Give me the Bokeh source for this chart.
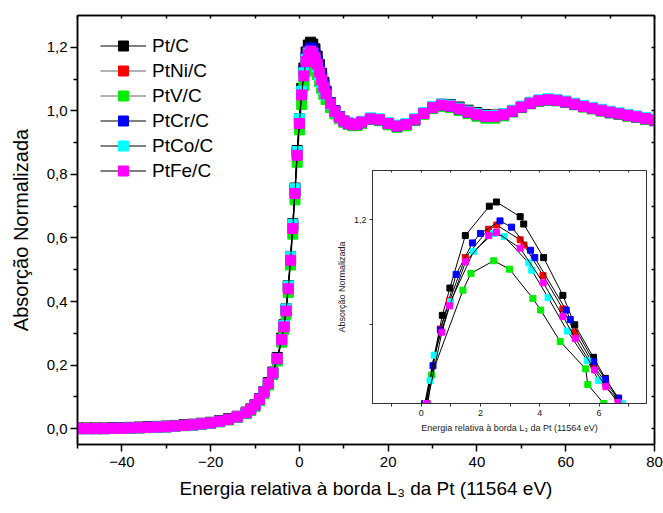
from bokeh.plotting import figure
from bokeh.models import (Range1d, LinearAxis, FixedTicker, CustomJSTickFormatter,
                          Legend, LegendItem)
from bokeh.layouts import column
from bokeh.embed import file_html
from bokeh.resources import INLINE

# ---------------- main chart data ----------------
X = [-50, -48, -46, -44, -42, -40, -38, -36, -34, -32, -30, -28, -26, -24, -22, -20, -18, -16, -14, -12,
     -11, -10, -9, -8, -7, -6, -5, -4,
     -3.5, -3, -2.5, -2, -1.5, -1, -0.5, 0, 0.5, 1, 1.5, 2, 2.5, 3, 3.5, 4, 4.5, 5, 5.5, 6,
     7, 8, 9, 10, 11, 12, 13, 14,
     16, 18, 20, 22, 24, 26, 28, 30, 32, 34, 36, 38, 40, 42, 44, 46, 48, 50, 52, 54, 56, 58,
     60, 62, 64, 66, 68, 70, 72, 74, 76, 78, 80]

PT_C = [0.002, 0.002, 0.002, 0.002, 0.003, 0.003, 0.004, 0.005, 0.006, 0.007, 0.008, 0.010, 0.012, 0.014, 0.017, 0.020, 0.025, 0.031, 0.039, 0.052,
        0.062, 0.076, 0.094, 0.117, 0.145, 0.178, 0.224, 0.285,
        0.327, 0.378, 0.450, 0.542, 0.645, 0.757, 0.875, 0.975, 1.070, 1.135, 1.185, 1.207, 1.216, 1.210, 1.195, 1.172, 1.146, 1.118, 1.090, 1.062,
        1.025, 0.999, 0.981, 0.969, 0.961, 0.957, 0.958, 0.964,
        0.974, 0.972, 0.961, 0.953, 0.958, 0.973, 0.993, 1.012, 1.021, 1.020, 1.012, 1.002, 0.994, 0.988, 0.987, 0.991, 1.001, 1.013, 1.024, 1.032, 1.035, 1.033,
        1.027, 1.020, 1.013, 1.007, 1.000, 0.994, 0.989, 0.984, 0.979, 0.974, 0.969]

PTNI_C = [0.000, 0.000, 0.000, 0.000, 0.001, 0.001, 0.002, 0.003, 0.004, 0.005, 0.006, 0.008, 0.010, 0.012, 0.015, 0.018, 0.023, 0.029, 0.037, 0.050,
          0.060, 0.074, 0.092, 0.115, 0.142, 0.175, 0.220, 0.280,
          0.322, 0.373, 0.444, 0.535, 0.636, 0.748, 0.866, 0.965, 1.055, 1.120, 1.163, 1.185, 1.195, 1.188, 1.175, 1.152, 1.127, 1.103, 1.080, 1.057,
          1.024, 0.999, 0.981, 0.969, 0.961, 0.957, 0.958, 0.965,
          0.975, 0.972, 0.960, 0.952, 0.957, 0.972, 0.992, 1.010, 1.018, 1.015, 1.006, 0.996, 0.988, 0.982, 0.982, 0.988, 0.999, 1.012, 1.024, 1.032, 1.035, 1.033,
          1.028, 1.021, 1.014, 1.008, 1.002, 0.996, 0.991, 0.986, 0.981, 0.976, 0.971]

PTV_C = [0.000, 0.000, 0.000, 0.000, 0.000, 0.001, 0.001, 0.002, 0.003, 0.004, 0.005, 0.007, 0.009, 0.011, 0.014, 0.017, 0.021, 0.027, 0.035, 0.047,
         0.057, 0.070, 0.088, 0.110, 0.137, 0.170, 0.213, 0.272,
         0.312, 0.360, 0.428, 0.515, 0.612, 0.720, 0.838, 0.940, 1.020, 1.080, 1.125, 1.152, 1.161, 1.153, 1.137, 1.114, 1.092, 1.071, 1.052, 1.036,
         1.010, 0.990, 0.975, 0.964, 0.957, 0.953, 0.954, 0.960,
         0.973, 0.969, 0.956, 0.948, 0.953, 0.969, 0.989, 1.007, 1.014, 1.010, 1.001, 0.991, 0.983, 0.977, 0.977, 0.984, 0.996, 1.010, 1.022, 1.030, 1.033, 1.031,
         1.026, 1.019, 1.012, 1.006, 1.000, 0.994, 0.989, 0.984, 0.979, 0.974, 0.969]

PTCR_C = [0.000, 0.000, 0.000, 0.000, 0.001, 0.001, 0.002, 0.003, 0.004, 0.005, 0.006, 0.008, 0.010, 0.012, 0.015, 0.018, 0.023, 0.029, 0.037, 0.050,
          0.060, 0.074, 0.092, 0.115, 0.142, 0.175, 0.220, 0.280,
          0.323, 0.374, 0.446, 0.538, 0.640, 0.752, 0.870, 0.970, 1.060, 1.125, 1.168, 1.189, 1.198, 1.194, 1.180, 1.158, 1.133, 1.107, 1.083, 1.060,
          1.025, 1.000, 0.982, 0.969, 0.961, 0.957, 0.958, 0.965,
          0.975, 0.972, 0.960, 0.952, 0.957, 0.972, 0.992, 1.010, 1.018, 1.015, 1.006, 0.996, 0.988, 0.982, 0.982, 0.988, 0.999, 1.012, 1.024, 1.032, 1.035, 1.033,
          1.028, 1.021, 1.014, 1.008, 1.002, 0.996, 0.991, 0.986, 0.981, 0.976, 0.971]

PTCO_C = [0.000, 0.000, 0.000, 0.000, 0.001, 0.001, 0.002, 0.003, 0.004, 0.005, 0.006, 0.008, 0.010, 0.012, 0.015, 0.018, 0.023, 0.029, 0.037, 0.050,
          0.060, 0.074, 0.092, 0.115, 0.142, 0.175, 0.220, 0.280,
          0.325, 0.377, 0.449, 0.541, 0.643, 0.755, 0.872, 0.975, 1.062, 1.120, 1.162, 1.182, 1.187, 1.178, 1.162, 1.138, 1.112, 1.090, 1.070, 1.050,
          1.020, 0.997, 0.980, 0.969, 0.962, 0.958, 0.960, 0.967,
          0.978, 0.975, 0.963, 0.955, 0.960, 0.975, 0.995, 1.013, 1.021, 1.018, 1.009, 0.999, 0.991, 0.985, 0.985, 0.991, 1.002, 1.015, 1.027, 1.035, 1.038, 1.036,
          1.031, 1.024, 1.017, 1.011, 1.005, 0.999, 0.994, 0.989, 0.984, 0.979, 0.974]

PTFE_C = [0.000, 0.000, 0.000, 0.000, 0.001, 0.001, 0.002, 0.003, 0.004, 0.005, 0.006, 0.008, 0.010, 0.012, 0.015, 0.018, 0.023, 0.029, 0.037, 0.050,
          0.060, 0.074, 0.092, 0.115, 0.142, 0.175, 0.220, 0.280,
          0.320, 0.370, 0.440, 0.530, 0.630, 0.740, 0.860, 0.960, 1.050, 1.110, 1.155, 1.178, 1.188, 1.182, 1.167, 1.147, 1.122, 1.097, 1.074, 1.053,
          1.022, 0.998, 0.980, 0.968, 0.960, 0.956, 0.958, 0.965,
          0.975, 0.972, 0.960, 0.952, 0.957, 0.972, 0.992, 1.010, 1.018, 1.015, 1.006, 0.996, 0.988, 0.982, 0.982, 0.988, 0.999, 1.012, 1.024, 1.032, 1.035, 1.033,
          1.028, 1.021, 1.014, 1.008, 1.002, 0.996, 0.991, 0.986, 0.981, 0.976, 0.971]

# ---------------- inset data (peak region) ----------------
IX_PT = [0.12, 0.715, 0.97, 1.49, 2.30, 2.54, 3.34, 3.46, 4.13, 4.78, 5.18, 5.81, 6.21, 6.64]
IY_PT = [1.025, 1.109, 1.135, 1.185, 1.213, 1.217, 1.203, 1.196, 1.164, 1.128, 1.100, 1.069, 1.049, 1.030]
IX_NI = [0.15, 0.65, 0.96, 1.49, 2.27, 2.55, 3.34, 3.47, 4.11, 4.78, 5.18, 5.83, 6.23, 6.64]
IY_NI = [1.025, 1.096, 1.123, 1.164, 1.191, 1.195, 1.181, 1.176, 1.147, 1.115, 1.093, 1.061, 1.044, 1.030]
IX_V = [0.23, 0.35, 1.41, 1.68, 2.45, 2.98, 3.77, 4.03, 4.69, 5.55, 5.62, 6.16]
IY_V = [1.025, 1.052, 1.133, 1.149, 1.161, 1.153, 1.125, 1.114, 1.084, 1.058, 1.043, 1.025]
IX_CR = [0.15, 0.40, 0.65, 1.18, 1.73, 2.00, 2.66, 3.05, 3.69, 3.83, 4.89, 5.03, 5.82, 6.21, 6.66]
IY_CR = [1.025, 1.061, 1.095, 1.148, 1.178, 1.187, 1.199, 1.193, 1.171, 1.164, 1.114, 1.105, 1.065, 1.048, 1.030]
IX_CO = [0.18, 0.30, 0.44, 0.99, 1.77, 2.44, 2.80, 3.63, 3.73, 4.28, 4.93, 5.60, 5.99, 6.79]
IY_CO = [1.025, 1.047, 1.071, 1.122, 1.170, 1.187, 1.184, 1.159, 1.152, 1.126, 1.094, 1.066, 1.047, 1.025]
IX_FE = [0.20, 0.70, 0.96, 1.50, 2.28, 2.54, 3.34, 4.12, 4.78, 5.20, 5.85, 6.23, 6.64]
IY_FE = [1.025, 1.093, 1.118, 1.160, 1.185, 1.188, 1.173, 1.140, 1.108, 1.087, 1.057, 1.041, 1.026]

NAMES = ["Pt/C", "PtNi/C", "PtV/C", "PtCr/C", "PtCo/C", "PtFe/C"]
COLORS = ["#000000", "#ff0000", "#00ee00", "#0000ff", "#00ffff", "#ff00ff"]
LINE_COLORS = ["#000000", "#666666", "#666666", "#000000", "#000000", "#000000"]
MAIN_Y = [PT_C, PTNI_C, PTV_C, PTCR_C, PTCO_C, PTFE_C]
INSET = [(IX_PT, IY_PT), (IX_NI, IY_NI), (IX_V, IY_V), (IX_CR, IY_CR), (IX_CO, IY_CO), (IX_FE, IY_FE)]

X_MAJOR = [-40, -20, 0, 20, 40, 60, 80]
X_MINOR = [-50, -30, -10, 10, 30, 50, 70]
X_ALL = [-50, -40, -30, -20, -10, 0, 10, 20, 30, 40, 50, 60, 70, 80]
Y_MAJOR = [0.0, 0.2, 0.4, 0.6, 0.8, 1.0, 1.2]
Y_MINOR = [0.1, 0.3, 0.5, 0.7, 0.9, 1.1]
Y_ALL = [0.0, 0.1, 0.2, 0.3, 0.4, 0.5, 0.6, 0.7, 0.8, 0.9, 1.0, 1.1, 1.2]

FONT = "Liberation Sans"
comma_fmt = CustomJSTickFormatter(code="return tick.toFixed(1).replace('.', ',');")
blank_fmt = CustomJSTickFormatter(code="return '';")

# ---------------- main figure ----------------
p = figure(width=663, height=513, x_range=Range1d(-50, 80), y_range=Range1d(-0.05, 1.30),
           output_backend="svg", toolbar_location=None,
           min_border_left=77, min_border_right=9, min_border_top=15, min_border_bottom=69)
p.xgrid.visible = False
p.ygrid.visible = False
p.outline_line_color = "black"
p.outline_line_width = 1.5

xa = p.xaxis[0]
xa.ticker = FixedTicker(ticks=X_MAJOR, minor_ticks=X_MINOR)
ya = p.yaxis[0]
ya.ticker = FixedTicker(ticks=Y_MAJOR, minor_ticks=Y_MINOR)
ya.formatter = comma_fmt
for ax in (xa, ya):
    ax.axis_line_width = 1.5
    ax.major_tick_line_width = 1.5
    ax.minor_tick_line_width = 1.5
    ax.major_tick_out = 7
    ax.major_tick_in = 0
    ax.minor_tick_out = 4
    ax.minor_tick_in = 0
    ax.major_label_text_font = FONT
    ax.major_label_text_font_size = "15px"
    ax.major_label_text_color = "black"
    ax.axis_label_text_font = FONT
    ax.axis_label_text_font_style = "normal"
    ax.axis_label_text_color = "black"
xa.axis_label = "Energia relativa à borda L₃ da Pt (11564 eV)"
xa.axis_label_text_font_size = "19px"
xa.major_label_standoff = 5
xa.axis_label_standoff = 8
ya.axis_label = "Absorção Normalizada"
ya.axis_label_text_font_size = "20px"
ya.major_label_standoff = 3
ya.axis_label_standoff = 12

top_ax = LinearAxis(ticker=FixedTicker(ticks=X_ALL), formatter=blank_fmt,
                    major_tick_in=3, major_tick_out=0, minor_tick_in=0, minor_tick_out=0,
                    axis_line_width=1.5, major_tick_line_width=1.5)
right_ax = LinearAxis(ticker=FixedTicker(ticks=Y_ALL), formatter=blank_fmt,
                      major_tick_in=3, major_tick_out=0, minor_tick_in=0, minor_tick_out=0,
                      axis_line_width=1.5, major_tick_line_width=1.5)
p.add_layout(top_ax, "above")
p.add_layout(right_ax, "right")

items = []
for name, col, lcol, ys in zip(NAMES, COLORS, LINE_COLORS, MAIN_Y):
    lr = p.line(X, ys, line_color=lcol, line_width=1)
    sr = p.scatter(X, ys, marker="square", size=10, fill_color=col, line_color=col)
    items.append(LegendItem(label=name, renderers=[lr, sr]))

legend = Legend(items=items, location=(23, 261), orientation="vertical",
                border_line_alpha=0, background_fill_alpha=0,
                label_text_font=FONT, label_text_font_size="19px", label_text_color="black",
                glyph_width=46, glyph_height=25, label_height=25, label_standoff=6,
                spacing=0, padding=0, margin=0)
p.add_layout(legend)

# ---------------- inset figure ----------------
# frames in a column are aligned, so the inset's left border equals the main one (77 px)
q = figure(width=360, height=278, x_range=Range1d(-1.64, 7.6), y_range=Range1d(1.025, 1.247),
           output_backend="svg", toolbar_location=None,
           min_border_left=77, min_border_right=9, min_border_top=5, min_border_bottom=40)
q.margin = (-348, 0, 0, 295)
q.border_fill_alpha = 0
q.background_fill_color = "white"
q.outline_line_color = "#333333"
q.outline_line_width = 1
q.xgrid.visible = False
q.ygrid.visible = False

qx = q.xaxis[0]
qx.ticker = FixedTicker(ticks=[0, 2, 4, 6], minor_ticks=[-1, 1, 3, 5, 7])
qy = q.yaxis[0]
qy.ticker = FixedTicker(ticks=[1.2], minor_ticks=[1.1])
qy.formatter = comma_fmt
for ax in (qx, qy):
    ax.axis_line_color = "#333333"
    ax.major_tick_line_color = "#333333"
    ax.minor_tick_line_color = "#333333"
    ax.major_tick_out = 3
    ax.major_tick_in = 0
    ax.minor_tick_out = 3
    ax.minor_tick_in = 0
    ax.major_label_text_font = FONT
    ax.major_label_text_font_size = "9px"
    ax.major_label_text_color = "#222222"
    ax.major_label_standoff = 3
    ax.axis_label_text_font = FONT
    ax.axis_label_text_font_style = "normal"
    ax.axis_label_text_font_size = "9px"
    ax.axis_label_text_color = "#222222"
    ax.axis_label_standoff = 4
qx.axis_label = "Energia relativa à borda L₃ da Pt (11564 eV)"
qy.axis_label = "Absorção Normalizada"

q_top = LinearAxis(ticker=FixedTicker(ticks=[-1, 0, 1, 2, 3, 4, 5, 6, 7]), formatter=blank_fmt,
                   major_tick_in=2, major_tick_out=0, minor_tick_in=0, minor_tick_out=0,
                   axis_line_color="#333333", major_tick_line_color="#333333")
q.add_layout(q_top, "above")

for col, (ix, iy) in zip(COLORS, INSET):
    q.line(ix, iy, line_color="black", line_width=1)
    q.scatter(ix, iy, marker="square", size=6, fill_color=col, line_color=col)

layout = column(p, q, spacing=0)
open("out.html", "w").write(file_html(layout, INLINE))
